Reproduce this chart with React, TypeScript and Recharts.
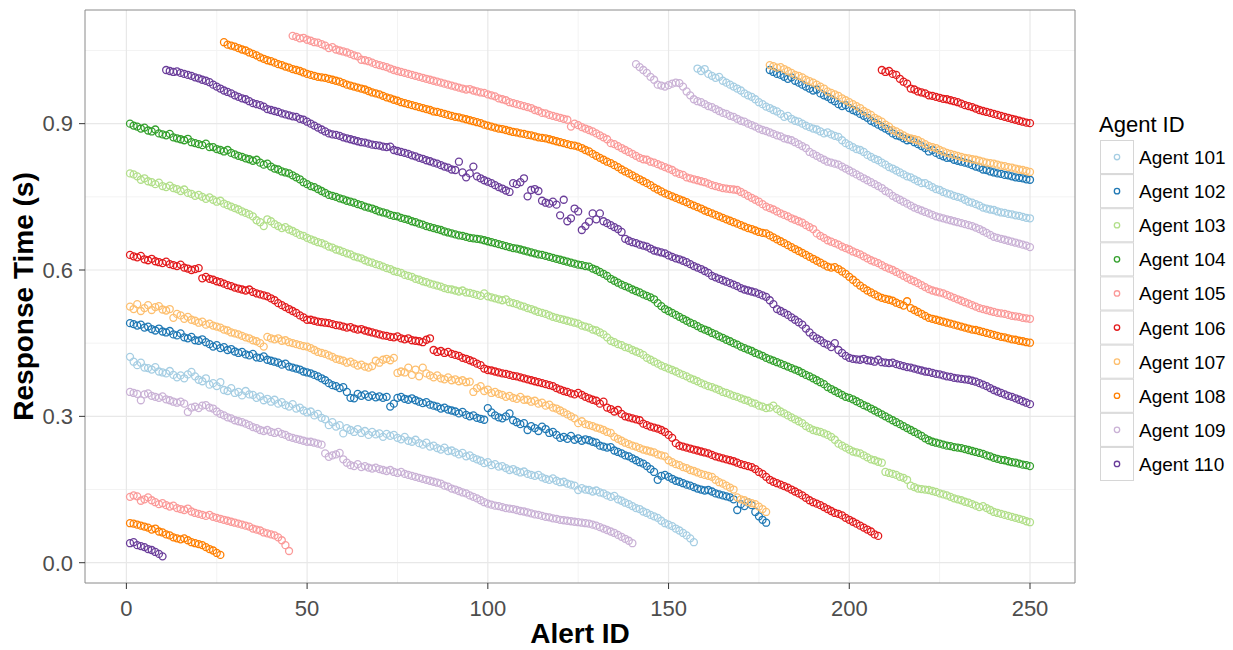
import { ScatterChart, Scatter, XAxis, YAxis, CartesianGrid, ReferenceArea } from "recharts";

// response time per alert, in milliseconds, one entry per alert ID (1..250)
const AGENT_101_MS = [
  422, 412, 405, 410, 400, 399, 396, 401, 392, 390,
  388, 393, 385, 380, 384, 378, 386, 391, 382, 375,
  372, 378, 365, 368, 362, 370, 354, 352, 358, 348,
  350, 343, 352, 345, 344, 338, 341, 333, 336, 330,
  334, 326, 329, 323, 320, 325, 316, 318, 312, 308,
  310, 302, 305, 297, 294, 282, 288, 279, 282, 265,
  276, 272, 268, 274, 266, 270, 262, 268, 263, 265,
  258, 264, 260, 262, 256, 253, 258, 250, 248, 252,
  245, 242, 246, 238, 240, 235, 232, 236, 229, 230,
  226, 222, 225, 218, 220, 215, 212, 209, 204, 206,
  200, 202, 197, 198, 194, 190, 192, 188, 185, 187,
  182, 180, 178, 180, 175, 172, 170, 173, 168, 165,
  166, 162, 160, 158, 149, 153, 150, 149, 146, 148,
  144, 142, 138, 135, 137, 130, 127, 123, 120, 116,
  112, 110, 105, 102, 98, 95, 92, 86, 81, 78,
  75, 70, 66, 61, 56, 50, 42,
  1013, 1008, 1012, 1002, 998, 994, 996, 988, 984, 980,
  976, 972, 968, 962, 958, 955, 950, 944, 940, 935,
  932, 928, 925, 920, 914, 916, 910, 906, 904, 900,
  896, 893, 890, 888, 884, 880, 882, 878, 875, 873,
  866, 860, 856, 852, 848, 846, 842, 836, 832, 828,
  825, 820, 816, 811, 808, 804, 800, 796, 792, 790,
  786, 782, 778, 778, 774, 770, 766, 764, 760, 757,
  755, 752, 750, 748, 744, 740, 738, 735, 732, 728,
  726, 724, 723, 720, 718, 717, 715, 714, 712, 711, 709, 707, 706,
];

const AGENT_102_MS = [
  491, 489, 486, 488, 482, 484, 479, 476, 480, 474,
  472, 475, 468, 466, 470, 462, 460, 463, 456, 455,
  458, 452, 448, 443, 446, 440, 442, 436, 438, 433,
  430, 432, 427, 425, 428, 421, 420, 423, 416, 414,
  412, 410, 406, 408, 402, 400, 398, 396, 392, 390,
  388, 385, 382, 378, 374, 368, 364, 362, 358, 360,
  350, 338, 337, 346, 342, 345, 340, 343, 339, 341,
  338, 340, 320, 326, 338, 340, 336, 334, 337, 333,
  330, 327, 329, 324, 322, 320, 316, 318, 314, 312,
  310, 306, 309, 303, 300, 302, 297, 295, 293, 317,
  308, 302, 298, 296, 300, 306, 292, 288, 284, 286,
  272, 280, 276, 270, 279, 274, 266, 268, 262, 256,
  258, 254, 260, 252, 255, 250, 253, 251, 248, 246,
  240, 238, 236, 237, 230, 227, 224, 220, 218, 214,
  210, 206, 203, 198, 192, 186, 170, 178, 180, 176,
  172, 168, 166, 163, 160, 158, 155, 152, 150, 148,
  149, 146, 142, 140, 138, 136, 134, 130, 108, 120,
  116, 124, 118, 104, 95, 88, 82,
  1010, 1006, 1002, 1000, 996, 992, 995, 988, 984, 980,
  976, 972, 968, 970, 962, 958, 955, 950, 946, 940,
  936, 938, 932, 928, 925, 920, 916, 912, 906, 902,
  898, 894, 890, 886, 880, 876, 874, 870, 866, 867,
  862, 858, 854, 850, 843, 846, 840, 836, 833, 830,
  830, 826, 824, 822, 820, 818, 815, 812, 810, 806,
  805, 802, 800, 798, 797, 795, 794, 792, 790, 789, 788, 786, 785,
];

const AGENT_103_MS = [
  798, 796, 792, 785, 788, 782, 780, 776, 779, 772,
  770, 773, 768, 766, 762, 765, 758, 756, 752, 754,
  750, 746, 749, 744, 740, 742, 736, 733, 730, 727,
  724, 720, 717, 714, 710, 702, 698, 690, 704, 700,
  694, 690, 686, 688, 683, 680, 676, 672, 670, 666,
  663, 660, 657, 655, 652, 648, 646, 642, 640, 637,
  634, 632, 628, 626, 624, 620, 617, 615, 612, 610,
  607, 604, 602, 598, 596, 594, 590, 588, 586, 582,
  580, 577, 575, 572, 570, 568, 566, 563, 561, 560,
  558, 556, 558, 554, 553, 551, 549, 547, 552, 546,
  544, 542, 540, 538, 540, 534, 532, 530, 527, 525,
  522, 520, 517, 514, 512, 510, 507, 504, 502, 500,
  498, 496, 494, 492, 490, 486, 484, 482, 478, 476,
  472, 468, 462, 455, 452, 448, 446, 442, 440, 436,
  433, 430, 426, 420, 416, 412, 408, 404, 401, 398,
  395, 392, 388, 385, 382, 378, 375, 372, 368, 365,
  362, 360, 357, 354, 350, 348, 345, 342, 340, 337,
  334, 332, 328, 326, 322, 320, 317, 318, 322, 315,
  310, 306, 302, 298, 294, 290, 286, 280, 276, 272,
  270, 268, 265, 262, 258, 252, 244, 240, 236, 232,
  228, 226, 224, 220, 216, 212, 210, 207, 205, 186,
  184, 182, 180, 176, 174, 170, 158, 155, 152, 151,
  150, 149, 147, 145, 142, 140, 138, 135, 132, 130,
  128, 125, 123, 120, 117, 114, 116, 112, 108, 104,
  102, 100, 98, 96, 94, 92, 90, 88, 85, 83,
];

const AGENT_104_MS = [
  900, 896, 894, 890, 892, 886, 884, 888, 880, 878,
  876, 879, 872, 870, 868, 866, 869, 862, 860, 858,
  856, 859, 852, 852, 848, 846, 843, 846, 840, 837,
  834, 832, 829, 827, 824, 826, 820, 816, 818, 812,
  808, 806, 802, 800, 798, 794, 790, 786, 780, 776,
  772, 770, 766, 762, 758, 754, 752, 750, 747, 745,
  742, 740, 738, 735, 733, 730, 728, 726, 723, 720,
  718, 716, 713, 711, 710, 707, 705, 703, 700, 698,
  695, 693, 690, 688, 686, 684, 682, 679, 677, 675,
  673, 671, 670, 668, 666, 665, 664, 663, 661, 659,
  657, 655, 653, 651, 649, 647, 645, 644, 642, 640,
  638, 636, 634, 632, 631, 629, 627, 625, 623, 621,
  619, 617, 615, 613, 611, 610, 608, 607, 603, 600,
  596, 592, 588, 582, 578, 574, 570, 567, 564, 560,
  557, 554, 550, 547, 544, 540, 532, 526, 520, 516,
  512, 508, 504, 500, 496, 492, 489, 485, 481, 478,
  475, 471, 468, 464, 461, 457, 454, 450, 447, 443,
  440, 437, 434, 430, 427, 424, 420, 417, 414, 411,
  408, 405, 402, 399, 396, 393, 389, 385, 382, 378,
  374, 370, 366, 360, 356, 352, 348, 344, 340, 338,
  335, 331, 327, 323, 320, 316, 312, 308, 304, 300,
  296, 292, 288, 284, 280, 276, 272, 268, 264, 260,
  255, 251, 248, 246, 244, 242, 240, 239, 237, 236,
  235, 233, 231, 229, 227, 225, 223, 220, 218, 215,
  213, 211, 210, 208, 206, 205, 203, 201, 200, 198,
];

const AGENT_105_MS = [
  135, 138, 136, 127, 130, 134, 128, 124, 120, 122,
  118, 115, 117, 112, 110, 108, 111, 105, 102, 100,
  98, 96, 98, 94, 92, 90, 88, 86, 84, 82,
  80, 78, 76, 74, 70, 68, 66, 62, 60, 58,
  56, 52, 46, 36, 24,
  1080, 1078, 1075, 1076, 1072, 1070, 1067, 1066, 1063, 1060,
  1055, 1057, 1052, 1050, 1048, 1046, 1043, 1040, 1038, 1031,
  1030, 1028, 1025, 1022, 1020, 1018, 1016, 1013, 1010, 1008,
  1006, 1004, 1002, 1000, 998, 996, 994, 992, 990, 988,
  986, 984, 982, 980, 978, 976, 974, 972, 970, 971,
  968, 966, 964, 963, 960, 958, 956, 952, 950, 948,
  944, 942, 940, 938, 936, 934, 932, 928, 926, 922,
  921, 918, 916, 914, 912, 910, 908, 894, 900, 897,
  893, 890, 887, 884, 880, 876, 872, 868, 860, 858,
  854, 850, 846, 842, 838, 834, 830, 827, 826, 822,
  820, 817, 814, 811, 808, 805, 800, 797, 795, 790,
  788, 786, 784, 782, 780, 777, 774, 772, 770, 768,
  767, 766, 765, 764, 760, 756, 752, 748, 744, 740,
  735, 730, 727, 724, 720, 716, 713, 710, 706, 703,
  700, 697, 692, 688, 684, 675, 670, 666, 661, 658,
  655, 652, 648, 645, 642, 638, 635, 632, 628, 624,
  620, 617, 614, 610, 606, 603, 600, 596, 592, 588,
  584, 580, 577, 573, 569, 565, 561, 558, 556, 554,
  552, 549, 546, 543, 540, 537, 534, 531, 528, 525,
  522, 520, 518, 516, 514, 512, 511, 510, 508, 506,
  505, 504, 502, 501, 500,
];

const AGENT_106_MS = [
  631, 628, 626, 629, 622, 620, 623, 618, 616, 614,
  617, 612, 610, 608, 611, 605, 603, 600, 602, 604,
  583, 586, 582, 580, 577, 575, 572, 569, 567, 564,
  562, 560, 558, 560, 555, 552, 550, 548, 546, 542,
  538, 532, 528, 524, 520, 516, 512, 507, 503, 498,
  498, 496, 494, 493, 492, 491, 489, 487, 486, 484,
  482, 483, 480, 478, 479, 476, 474, 472, 470, 468,
  466, 465, 463, 462, 464, 460, 458, 460, 456, 455,
  454, 452, 457, 460, 436, 432, 434, 430, 432, 428,
  426, 424, 420, 418, 415, 412, 408, 405, 398, 395,
  394, 392, 390, 388, 387, 385, 383, 382, 380, 378,
  376, 374, 372, 370, 368, 366, 364, 362, 358, 355,
  352, 350, 347, 345, 348, 344, 340, 337, 334, 332,
  326, 330, 318, 315, 310, 313, 305, 300, 298, 296,
  294, 292, 285, 282, 279, 277, 275, 272, 268, 262,
  256, 245, 240, 238, 236, 234, 232, 230, 228, 226,
  224, 221, 218, 216, 214, 212, 210, 208, 205, 202,
  200, 198, 196, 192, 186, 182, 176, 170, 166, 163,
  160, 157, 154, 150, 146, 142, 138, 133, 128, 124,
  121, 118, 114, 110, 106, 102, 100, 97, 92, 88,
  84, 80, 76, 72, 68, 64, 58, 55,
  1010, 1006, 1008, 1002, 1000, 992, 986, 982, 972, 970,
  966, 964, 962, 958, 957, 955, 953, 951, 950, 948,
  946, 944, 941, 938, 936, 934, 931, 928, 926, 924,
  922, 920, 918, 916, 914, 912, 910, 908, 906, 904, 902, 901,
];

const AGENT_107_MS = [
  525, 520, 530, 516, 522, 528, 518, 524, 526, 519,
  517, 520, 502, 510, 507, 500, 504, 498, 496, 492,
  494, 488, 490, 486, 484, 482, 478, 476, 472, 470,
  468, 465, 462, 460, 456, 454, 450, 443, 463, 460,
  458, 460, 455, 456, 452, 450, 448, 446, 444, 443,
  440, 436, 432, 430, 428, 425, 422, 418, 416, 414,
  410, 412, 408, 404, 406, 402, 400, 403, 414, 410,
  416, 418, 415, 420, 389, 392, 390, 400, 385, 396,
  382, 400, 388, 384, 380, 384, 378, 376, 380, 374,
  376, 372, 374, 370, 371, 350, 358, 362, 352, 355,
  348, 350, 346, 344, 340, 342, 338, 336, 340, 334,
  334, 330, 332, 326, 328, 322, 324, 318, 316, 312,
  308, 304, 300, 296, 286, 290, 284, 282, 280, 277,
  275, 272, 268, 266, 258, 254, 250, 246, 243, 240,
  238, 235, 232, 230, 228, 226, 222, 220, 218, 210,
  206, 202, 200, 196, 194, 190, 188, 185, 182, 180,
  178, 176, 170, 165, 162, 158, 154, 150, 134, 130,
  128, 124, 122, 120, 115, 110, 104,
  1020, 1018, 1015, 1016, 1012, 1008, 1004, 1000, 998, 995,
  990, 987, 984, 980, 976, 972, 966, 963, 960, 957,
  952, 948, 944, 940, 936, 932, 926, 922, 918, 912,
  908, 904, 898, 894, 887, 884, 880, 876, 872, 870,
  868, 866, 862, 858, 854, 852, 850, 846, 843, 840,
  838, 836, 834, 832, 830, 829, 827, 826, 824, 822,
  820, 819, 818, 816, 814, 813, 811, 810, 808, 806, 805, 803, 801,
];

const AGENT_108_MS = [
  81, 80, 78, 76, 74, 72, 68, 70, 64, 62,
  58, 56, 52, 50, 48, 50, 46, 42, 40, 38,
  36, 32, 28, 25, 20, 16,
  1067, 1062, 1060, 1058, 1055, 1052, 1050, 1046, 1043, 1040,
  1036, 1033, 1030, 1028, 1025, 1022, 1020, 1017, 1015, 1012,
  1010, 1008, 1005, 1002, 1000, 998, 996, 995, 994, 992,
  990, 988, 986, 983, 980, 978, 976, 974, 972, 970,
  967, 964, 962, 960, 957, 954, 952, 949, 947, 944,
  942, 940, 938, 936, 934, 932, 930, 928, 925, 924,
  922, 920, 918, 916, 914, 913, 911, 909, 907, 905,
  903, 901, 898, 896, 894, 892, 890, 889, 887, 885,
  883, 882, 880, 879, 877, 876, 874, 872, 871, 870,
  868, 866, 864, 862, 860, 858, 856, 855, 853, 850,
  846, 843, 838, 834, 830, 826, 822, 819, 815, 811,
  806, 802, 798, 794, 790, 786, 782, 778, 774, 769,
  765, 761, 757, 754, 751, 748, 745, 742, 739, 735,
  732, 729, 726, 722, 719, 716, 713, 710, 707, 704,
  701, 698, 695, 692, 689, 686, 684, 681, 678, 676,
  675, 671, 667, 663, 659, 655, 651, 647, 643, 639,
  635, 631, 627, 623, 619, 615, 611, 607, 605, 606,
  602, 597, 592, 586, 580, 574, 568, 563, 558, 554,
  550, 546, 543, 541, 539, 537, 533, 530, 527, 536,
  522, 518, 514, 510, 506, 502, 500, 498, 496, 494,
  492, 490, 488, 486, 484, 482, 480, 478, 477, 475,
  473, 471, 469, 467, 465, 463, 462, 460, 458, 457,
  455, 454, 452, 451,
];

const AGENT_109_MS = [
  350, 348, 346, 333, 345, 347, 342, 340, 338, 341,
  335, 333, 330, 328, 330, 326, 309, 318, 320, 317,
  322, 323, 318, 316, 310, 305, 302, 298, 296, 292,
  290, 288, 285, 282, 278, 276, 272, 270, 272, 268,
  266, 268, 264, 262, 258, 256, 254, 252, 250, 248,
  248, 246, 244, 242, 224, 217, 220, 222, 225, 212,
  205, 200, 198, 202, 196, 198, 195, 193, 195, 192,
  190, 188, 190, 186, 184, 186, 182, 180, 178, 176,
  174, 172, 170, 168, 166, 164, 162, 158, 156, 152,
  150, 147, 144, 142, 138, 135, 132, 128, 124, 121,
  119, 117, 116, 114, 112, 111, 110, 108, 106, 105,
  103, 101, 99, 98, 96, 94, 93, 91, 90, 88,
  87, 86, 85, 84, 83, 82, 81, 80, 78, 76,
  73, 70, 67, 64, 61, 57, 53, 49, 45, 40,
  1022, 1016, 1010, 1004, 996, 990, 980, 978, 976, 979,
  982, 984, 983, 976, 966, 958, 950, 946, 944, 940,
  936, 934, 930, 926, 922, 920, 916, 914, 910, 906,
  904, 900, 897, 894, 890, 887, 885, 882, 879, 876,
  874, 870, 868, 866, 862, 858, 854, 850, 842, 838,
  834, 830, 826, 822, 820, 818, 816, 812, 808, 804,
  800, 796, 792, 788, 784, 780, 776, 772, 768, 762,
  758, 752, 748, 744, 740, 736, 732, 728, 725, 722,
  719, 716, 713, 710, 708, 706, 704, 702, 700, 698,
  696, 694, 692, 690, 687, 684, 680, 676, 672, 668,
  666, 664, 662, 660, 658, 656, 654, 652, 650, 647,
];

const AGENT_110_MS = [
  40, 42, 36, 34, 32, 28, 26, 22, 18, 13,
  1010, 1008, 1006, 1007, 1004, 1002, 1000, 998, 995, 993,
  990, 988, 985, 980, 976, 972, 968, 965, 962, 958,
  955, 952, 950, 946, 942, 940, 938, 935, 930, 928,
  926, 924, 921, 919, 917, 915, 914, 910, 908, 904,
  900, 896, 892, 888, 884, 880, 878, 877, 875, 872,
  870, 868, 866, 864, 862, 861, 859, 857, 856, 855,
  853, 852, 853, 846, 844, 842, 840, 838, 835, 833,
  830, 828, 825, 823, 820, 818, 815, 812, 810, 806,
  805, 822, 800, 790, 798, 812, 792, 788, 784, 781,
  778, 774, 770, 767, 763, 760, 778, 776, 780, 788,
  751, 764, 766, 762, 742, 738, 736, 740, 734, 712,
  744, 700, 706, 726, 720, 682, 690, 699, 716, 704,
  716, 700, 696, 692, 688, 684, 678, 664, 660, 657,
  655, 652, 650, 648, 644, 640, 638, 636, 634, 630,
  627, 624, 622, 619, 616, 612, 608, 605, 602, 598,
  594, 588, 585, 582, 579, 576, 573, 570, 567, 563,
  560, 558, 556, 554, 551, 548, 545, 538, 530, 520,
  516, 512, 508, 503, 498, 493, 488, 480, 472, 465,
  460, 456, 450, 447, 442, 450, 436, 430, 424, 420,
  418, 417, 416, 418, 415, 414, 412, 416, 411, 410,
  409, 410, 407, 405, 403, 401, 400, 398, 396, 394,
  392, 391, 389, 387, 386, 384, 382, 381, 379, 378,
  377, 376, 375, 373, 371, 368, 365, 362, 358, 354,
  351, 348, 345, 342, 340, 337, 334, 331, 328, 325,
];

const AGENT_NAMES = [
  "Agent 101", "Agent 102", "Agent 103", "Agent 104", "Agent 105",
  "Agent 106", "Agent 107", "Agent 108", "Agent 109", "Agent 110",
];

// RColorBrewer "Paired"
const COLORS = [
  "#A6CEE3", "#1F78B4", "#B2DF8A", "#33A02C", "#FB9A99",
  "#E31A1C", "#FDBF6F", "#FF7F00", "#CAB2D6", "#6A3D9A",
];

const SERIES_MS = [
  AGENT_101_MS, AGENT_102_MS, AGENT_103_MS, AGENT_104_MS, AGENT_105_MS,
  AGENT_106_MS, AGENT_107_MS, AGENT_108_MS, AGENT_109_MS, AGENT_110_MS,
];

const X_TICKS = [0, 50, 100, 150, 200, 250];
const X_MINOR = [25, 75, 125, 175, 225];
const Y_TICKS = [0, 0.3, 0.6, 0.9];
const Y_MINOR = [0.15, 0.45, 0.75, 1.05];

const X_DOMAIN: [number, number] = [-11.45, 262.45];
const Y_DOMAIN: [number, number] = [-0.0416, 1.133];

const FONT = '"Liberation Sans", Arial, Helvetica, sans-serif';

const agents = AGENT_NAMES.map((name, i) => ({
  name,
  color: COLORS[i],
  points: SERIES_MS[i].map((ms, j) => ({ alertId: j + 1, responseTime: ms / 1000 })),
}));

function XTitle() {
  return (
    <text x={580} y={643} textAnchor="middle" fontSize={28} fontWeight="bold" fontFamily={FONT} fill="#000">
      Alert ID
    </text>
  );
}

function YTitle() {
  return (
    <text
      transform="translate(33,296.5) rotate(-90)"
      textAnchor="middle"
      fontSize={28}
      fontWeight="bold"
      fontFamily={FONT}
      fill="#000"
    >
      Response Time (s)
    </text>
  );
}

function LegendBox() {
  const top = 140;
  const step = 34.1;
  return (
    <svg
      width={1233}
      height={650}
      style={{ position: "absolute", left: 0, top: 0, pointerEvents: "none" }}
    >
      <text x={1099} y={132} fontSize={22} fontFamily={FONT} fill="#000">
        Agent ID
      </text>
      {agents.map((a, i) => {
        const y = top + i * step;
        return (
          <g key={a.name}>
            <rect x={1100.5} y={y + 0.5} width={33} height={step - 1} fill="#fff" stroke="#d6d6d6" strokeWidth={1} />
            <circle cx={1117} cy={y + step / 2} r={2.7} fill="none" stroke={a.color} strokeWidth={1.3} />
            <text x={1139} y={y + step / 2 + 7} fontSize={19} fontFamily={FONT} fill="#000">
              {a.name}
            </text>
          </g>
        );
      })}
    </svg>
  );
}

export default function App() {
  return (
    <div style={{ position: "absolute", left: 0, top: 0, width: 1233, height: 650, background: "#fff" }}>
      <ScatterChart width={1233} height={650} margin={{ top: 10, right: 158, bottom: 27, left: 25 }}>
        <CartesianGrid
          stroke="#f3f3f3"
          strokeWidth={1}
          strokeDasharray="0"
          verticalValues={X_MINOR}
          horizontalValues={Y_MINOR}
        />
        <CartesianGrid
          stroke="#e8e8e8"
          strokeWidth={1.2}
          strokeDasharray="0"
          verticalValues={X_TICKS}
          horizontalValues={Y_TICKS}
        />
        <XAxis
          type="number"
          dataKey="alertId"
          domain={X_DOMAIN}
          ticks={X_TICKS}
          allowDataOverflow
          height={40}
          axisLine={false}
          tickSize={6}
          tickMargin={11}
          tickLine={{ stroke: "#333", strokeWidth: 1 }}
          tick={{ fill: "#4d4d4d", fontSize: 22, fontFamily: FONT }}
          label={<XTitle />}
        />
        <YAxis
          type="number"
          dataKey="responseTime"
          domain={Y_DOMAIN}
          ticks={Y_TICKS}
          allowDataOverflow
          width={60}
          axisLine={false}
          tickSize={6}
          tickMargin={6}
          tickLine={{ stroke: "#333", strokeWidth: 1 }}
          tick={{ fill: "#4d4d4d", fontSize: 22, fontFamily: FONT }}
          tickFormatter={(v: number) => v.toFixed(1)}
          label={<YTitle />}
        />
        {agents.map((a) => (
          <Scatter
            key={a.name}
            name={a.name}
            data={a.points}
            isAnimationActive={false}
            shape={(p: any) => (
              <circle cx={p.cx} cy={p.cy} r={3.5} fill="none" stroke={a.color} strokeWidth={1.3} />
            )}
          />
        ))}
        <ReferenceArea
          x1={X_DOMAIN[0]}
          x2={X_DOMAIN[1]}
          y1={Y_DOMAIN[0]}
          y2={Y_DOMAIN[1]}
          fill="none"
          stroke="#8a8a8a"
          strokeWidth={1}
          ifOverflow="visible"
        />
      </ScatterChart>
      <LegendBox />
    </div>
  );
}
